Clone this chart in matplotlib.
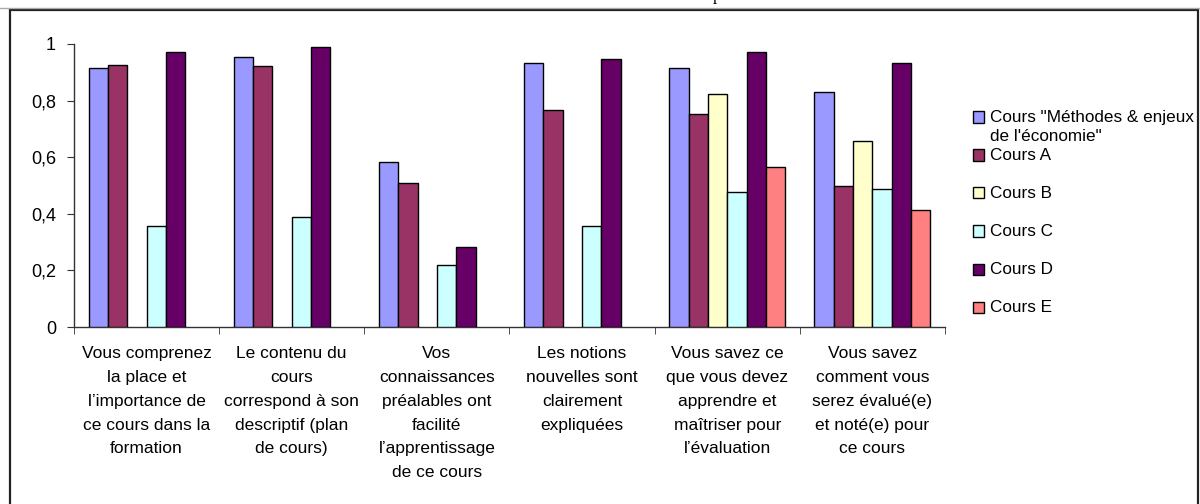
import matplotlib
matplotlib.use("Agg")
import matplotlib.pyplot as plt
from matplotlib.patches import Rectangle
from matplotlib.lines import Line2D
import numpy as np

plt.rcParams['font.family'] = ['Liberation Sans', 'DejaVu Sans']

categories = [
    "Vous comprenez\nla place et\nl’importance de\nce cours dans la\nformation",
    "Le contenu du\ncours\ncorrespond à son\ndescriptif (plan\nde cours)",
    "Vos\nconnaissances\npréalables ont\nfacilité\nl’apprentissage\nde ce cours",
    "Les notions\nnouvelles sont\nclairement\nexpliquées",
    "Vous savez ce\nque vous devez\napprendre et\nmaîtriser pour\nl’évaluation",
    "Vous savez\ncomment vous\nserez évalué(e)\net noté(e) pour\nce cours",
]
series_names = ['Cours "Méthodes & enjeux\nde l\'économie"', "Cours A", "Cours B",
                "Cours C", "Cours D", "Cours E"]
cours_methodes = [0.914, 0.954, 0.584, 0.932, 0.914, 0.830]
cours_a = [0.927, 0.921, 0.510, 0.767, 0.754, 0.499]
cours_b = [np.nan, np.nan, np.nan, np.nan, 0.823, 0.658]
cours_c = [0.357, 0.390, 0.219, 0.357, 0.476, 0.487]
cours_d = [0.972, 0.989, 0.283, 0.948, 0.971, 0.932]
cours_e = [np.nan, np.nan, np.nan, np.nan, 0.566, 0.413]
yticks = [0, 0.2, 0.4, 0.6, 0.8, 1]
ytick_labels = ["0", "0,2", "0,4", "0,6", "0,8", "1"]

series = [cours_methodes, cours_a, cours_b, cours_c, cours_d, cours_e]
colors = ["#9999FF", "#993366", "#FFFFCC", "#CCFFFF", "#660066", "#FF8080"]

W, H = 1200, 504
fig = plt.figure(figsize=(12, 5.04), dpi=100)
ax = fig.add_axes([74 / W, 1 - 327 / H, (945 - 74) / W, (327 - 44) / H])

n = len(series)
w = 0.8 / n
x = np.arange(len(categories))
for j, (vals, col) in enumerate(zip(series, colors)):
    ax.bar(x + (j - (n - 1) / 2) * w, vals, width=w, color=col,
           edgecolor="black", linewidth=1.0, zorder=3)

ax.set_xlim(-0.5, len(categories) - 0.5)
ax.set_ylim(0, 1)
ax.set_yticks(yticks)
ax.set_yticklabels(ytick_labels, fontsize=13)
ax.set_xticks(x)
ax.set_xticklabels(categories, fontsize=12.5, linespacing=1.73)
ax.set_xticks(np.arange(len(categories) + 1) - 0.5, minor=True)
ax.tick_params(axis='x', which='major', length=0, pad=14)
ax.tick_params(axis='x', which='minor', length=5, direction='out', color='#333333')
ax.tick_params(axis='y', length=5, direction='out', pad=8, color='#333333')
for s in ['top', 'right']:
    ax.spines[s].set_visible(False)
for s in ['left', 'bottom']:
    ax.spines[s].set_color('#333333')
    ax.spines[s].set_linewidth(1.0)

# outer frame
fig.add_artist(Line2D([0, 1], [1 - 8 / H, 1 - 8 / H], color="#aaaaaa", lw=1.0,
                      transform=fig.transFigure))
fig.add_artist(Rectangle((10 / W, -0.05), (1198 - 10) / W, (1 - 10 / H) + 0.05,
                         transform=fig.transFigure, fill=False,
                         edgecolor="#222222", lw=1.6))
fig.text(717 / W, 1 + 0.5 / H, "p", fontsize=12, family="Liberation Serif",
         ha="center", va="baseline")

# legend
leg_y = [117, 155, 193, 231, 269, 307]
for name, col, yy in zip(series_names, colors, leg_y):
    fig.add_artist(Rectangle((973 / W, 1 - (yy + 5.5) / H), 11 / W, 11 / H,
                             transform=fig.transFigure, facecolor=col,
                             edgecolor="black", lw=1.0))
    fig.text(990 / W, 1 - (yy - 7) / H, name, fontsize=12.3, ha="left", va="top",
             linespacing=1.35)

fig.savefig("out.png", dpi=100)
